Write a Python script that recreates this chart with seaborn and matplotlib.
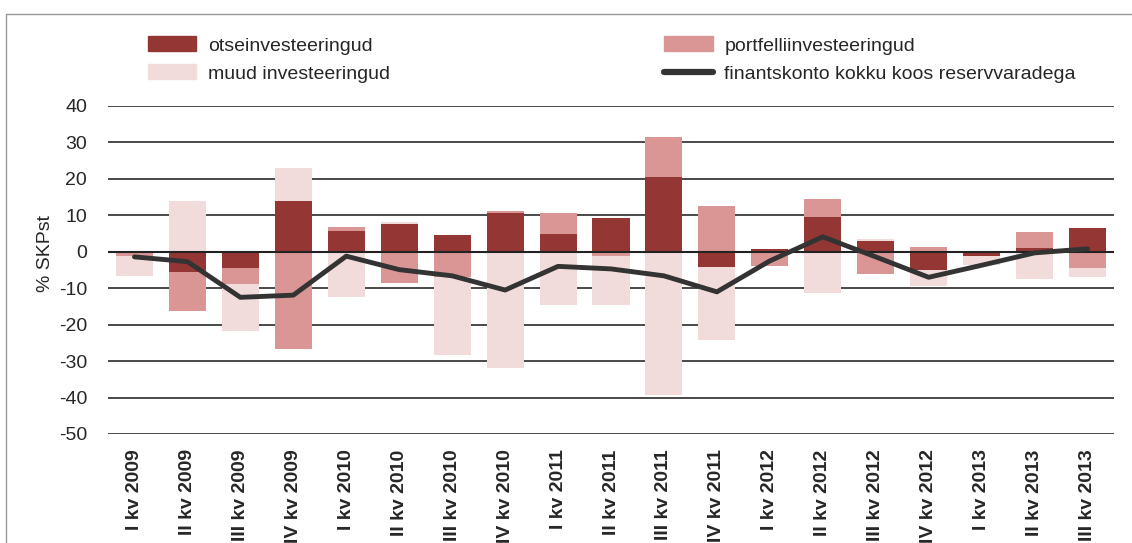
import numpy as np
import pandas as pd
import matplotlib
matplotlib.use("Agg")
import matplotlib.pyplot as plt
from matplotlib.patches import Patch
from matplotlib.lines import Line2D
import seaborn as sns

quarters = ["I kv 2009", "II kv 2009", "III kv 2009", "IV kv 2009",
            "I kv 2010", "II kv 2010", "III kv 2010", "IV kv 2010",
            "I kv 2011", "II kv 2011", "III kv 2011", "IV kv 2011",
            "I kv 2012", "II kv 2012", "III kv 2012", "IV kv 2012",
            "I kv 2013", "II kv 2013", "III kv 2013"]
otse = [0.0, -5.5, -4.4, 14.0, 5.8, 7.7, 4.7, 10.7, 4.9, 9.3,
        20.6, -4.1, 0.8, 9.6, 3.0, -4.9, -1.1, 1.1, 6.6]
portfell = [-1.1, -10.7, -4.4, -26.6, 1.1, -8.5, -6.9, 0.6, 5.8, -1.1,
            11.0, 12.6, -3.8, 5.0, -6.0, 1.4, 0.0, 4.4, -4.4]
muud = [-5.5, 14.0, -12.9, 9.1, -12.5, 0.5, -21.4, -31.9, -14.6, -13.5,
        -39.3, -20.1, 0.0, -11.3, 0.6, -4.4, -2.5, -7.4, -2.5]
finants = [-1.4, -2.7, -12.5, -11.9, -1.2, -4.9, -6.6, -10.5, -4.0, -4.7,
           -6.6, -11.0, -2.5, 4.1, -1.4, -7.0, -3.7, -0.3, 0.8]

series = [("otseinvesteeringud", otse, "#943634"),
          ("portfelliinvesteeringud", portfell, "#D99694"),
          ("muud investeeringud", muud, "#F2DCDB")]

sns.set_style("white")
plt.rcParams["font.family"] = ["Liberation Sans", "DejaVu Sans"]
plt.rcParams["axes.unicode_minus"] = False

fig = plt.figure(figsize=(11.32, 5.43), dpi=100)
ax = fig.add_axes([108 / 1132, 1 - 434 / 543, 1006 / 1132, 328 / 543])

pos_bottom = np.zeros(len(quarters))
neg_bottom = np.zeros(len(quarters))
for name, vals, col in series:
    vals = np.array(vals)
    bottom = np.where(vals >= 0, pos_bottom, neg_bottom)
    df = pd.DataFrame({"kv": quarters, "v": vals})
    sns.barplot(data=df, x="kv", y="v", color=col, saturation=1, width=0.7,
                bottom=bottom, ax=ax, zorder=2, linewidth=0)
    pos_bottom = pos_bottom + np.clip(vals, 0, None)
    neg_bottom = neg_bottom + np.clip(vals, None, 0)

ax.axhline(0, color="#222222", lw=1.5, zorder=3)
sns.lineplot(x=np.arange(len(quarters)), y=finants, color="#333333", lw=3.5,
             ax=ax, zorder=4)

ax.set_xlim(-0.5, len(quarters) - 0.5)
ax.set_ylim(-50, 40)
ax.set_yticks(range(-50, 41, 10))
ax.yaxis.grid(True, color="#3a3a3a", lw=1.3)
ax.set_axisbelow(True)
for s in ax.spines.values():
    s.set_visible(False)
ax.tick_params(axis="both", length=0, labelsize=14)
ax.tick_params(axis="y", pad=15)
ax.tick_params(axis="x", pad=11)
ax.set_xticks(range(len(quarters)))
ax.set_xticklabels(quarters, rotation=90, fontweight="bold", va="top")
ax.set_xlabel("")
ax.set_ylabel("% SKPst", fontsize=14)
ax.yaxis.set_label_coords(-0.054, 0.55)

# legend filled row by row like the original
handles = [Patch(color=series[0][2]), Patch(color=series[2][2]),
           Patch(color=series[1][2]), Line2D([], [], color="#333333", lw=4.5)]
labels = [series[0][0], series[2][0], series[1][0],
          "finantskonto kokku koos reservvaradega"]
fig.legend(handles, labels, ncol=2, loc="upper left",
           bbox_to_anchor=(130 / 1132, 1 - 19 / 543), frameon=False,
           fontsize=14, handlelength=2.5, handleheight=0.8,
           handletextpad=0.6, columnspacing=14.1, labelspacing=0.5)

# figure frame (top and left edges)
fig.add_artist(Line2D([6 / 1132, 6 / 1132], [0, 1 - 14 / 543],
                      transform=fig.transFigure, color="#999999", lw=1))
fig.add_artist(Line2D([6 / 1132, 1], [1 - 14 / 543, 1 - 14 / 543],
                      transform=fig.transFigure, color="#999999", lw=1))

fig.savefig("out.png", dpi=100)
